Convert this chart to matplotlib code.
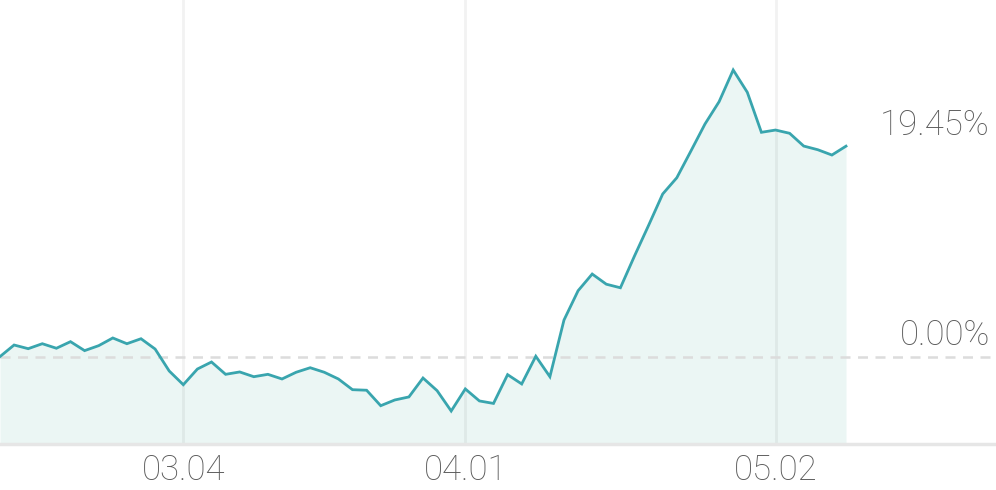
import matplotlib
matplotlib.use('Agg')
import matplotlib.pyplot as plt
import matplotlib.transforms as mtransforms

# Cumulative return (%) per trading day, index-based x axis
values = [0.0, 1.07, 0.73, 1.19, 0.77, 1.38, 0.55, 1.01, 1.72, 1.19,
          1.65, 0.70, -1.33, -2.60, -1.15, -0.50, -1.64, -1.42, -1.86, -1.64,
          -2.07, -1.45, -1.03, -1.45, -2.07, -3.06, -3.11, -4.54, -4.01, -3.73,
          -1.98, -3.15, -5.03, -2.99, -4.10, -4.33, -1.67, -2.53, 0.03, -1.86,
          3.38, 6.09, 7.63, 6.69, 6.36, 9.30, 12.13, 15.03, 16.53, 19.00,
          21.50, 23.56, 26.49, 24.43, 20.73, 20.94, 20.64, 19.46, 19.12, 18.63,
          19.45]
tick_positions = [13, 33, 55]
tick_labels = ['03.04', '04.01', '05.02']
last_label = '19.45%'
zero_label = '0.00%'

plt.rcParams['font.family'] = ['Roboto', 'DejaVu Sans']

fig = plt.figure(figsize=(9.96, 4.90), dpi=100)
ax = fig.add_axes([0, 46 / 490, 1, 444 / 490])

y_min, y_max = -8.08, 32.96
x = list(range(len(values)))
ax.fill_between(x, values, y_min, color='#ebf6f4', lw=0, zorder=1)
ax.plot(x, values, color='#39a5ae', lw=2, zorder=4, solid_joinstyle='miter')
ax.set_xlim(0, 996 / 14.1)
ax.set_ylim(y_min, y_max)

for t in tick_positions:
    ax.axvline(t, color='black', alpha=0.05, lw=2, zorder=2)
ax.axhline(0, color='#dcdcdc', lw=1.8, ls=(0, (4, 3)), zorder=3)

for s in ['top', 'left', 'right']:
    ax.spines[s].set_visible(False)
ax.spines['bottom'].set_color('#e6e6e6')
ax.spines['bottom'].set_linewidth(2.5)
ax.spines['bottom'].set_zorder(5)

text_color = '#5a5a5a'
ax.set_yticks([])
ax.set_xticks(tick_positions)
ax.set_xticklabels(tick_labels, fontsize=25, color=text_color, fontweight='light')
ax.tick_params(axis='x', length=0, pad=7)

blend = mtransforms.blended_transform_factory(ax.transAxes, ax.transData)
blend_off = mtransforms.offset_copy(blend, fig=fig, x=0, y=8, units='points')
ax.text(990 / 996, values[-1], last_label, transform=blend_off, ha='right',
        va='baseline', fontsize=25, color=text_color, fontweight='light')
ax.text(990 / 996, 0, zero_label, transform=blend_off, ha='right',
        va='baseline', fontsize=25, color=text_color, fontweight='light')

fig.savefig('out.png', dpi=100)
